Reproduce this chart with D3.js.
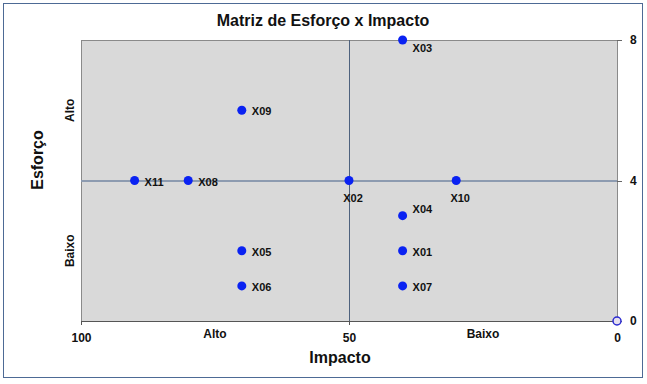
<!DOCTYPE html>
<html>
<head>
<meta charset="utf-8">
<script src="https://cdn.jsdelivr.net/npm/d3@7"></script>
<style>
  body { margin: 0; background: #fff; }
  text { font-family: "Liberation Sans", Arial, sans-serif; font-weight: bold; fill: #111; }
  line, rect, path { shape-rendering: crispEdges; }
</style>
</head>
<body>
<script>
// data
const names   = ["X01","X02","X03","X04","X05","X06","X07","X08","X09","X10","X11"];
const impacto = [40, 50, 40, 40, 70, 70, 40, 80, 70, 30, 90];
const esforco = [2, 4, 8, 3, 2, 1, 1, 4, 6, 4, 4];
// where each label sits around its point
const labelPos = ["right","below","belowRight","aboveRight","right","right","right","right","right","below","right"];

const xTicks = [100, 50, 0];
const yTicks = [0, 4, 8];
const xBands = [{v: 75, t: "Alto"}, {v: 25, t: "Baixo"}];
const yBands = [{v: 6, t: "Alto"}, {v: 2, t: "Baixo"}];

const W = 647, H = 384;
const margin = {top: 40, right: 30, bottom: 63, left: 81};
const width = 617 - margin.left, height = 321 - margin.top;

const svg = d3.select("body").append("svg")
  .attr("width", W).attr("height", H);

// outer frame
svg.append("rect")
  .attr("x", 3.5).attr("y", 3.5).attr("width", 639).attr("height", 374)
  .attr("fill", "none").attr("stroke", "#4d6a95").attr("stroke-width", 1.5);

svg.append("text")
  .attr("x", 323).attr("y", 26)
  .attr("text-anchor", "middle").style("font-size", "16px")
  .text("Matriz de Esforço x Impacto");

const g = svg.append("g").attr("transform", `translate(${margin.left},${margin.top})`);

const x = d3.scaleLinear().domain([100, 0]).range([0, width]);
const y = d3.scaleLinear().domain([0, 8]).range([height, 0]);

g.append("rect")
  .attr("width", width).attr("height", height)
  .attr("fill", "#d9d9d9")
  .attr("stroke", "#8a8a8a").attr("stroke-width", 1);

// quadrant lines
g.append("line")
  .attr("x1", 0).attr("x2", width).attr("y1", y(4)).attr("y2", y(4))
  .attr("stroke", "#8d9bb0").attr("stroke-width", 2);
g.append("line")
  .attr("x1", x(50) + 0.5).attr("x2", x(50) + 0.5).attr("y1", 0).attr("y2", height)
  .attr("stroke", "#4e627e").attr("stroke-width", 1);

// x axis
const axX = g.append("g").attr("transform", `translate(0,${height})`)
  .call(d3.axisBottom(x).tickValues(xTicks).tickSize(4).tickPadding(8));
axX.select(".domain").attr("stroke", "#555").attr("stroke-width", 1.5);
axX.selectAll(".tick line").attr("stroke", "#555");
axX.selectAll("text").style("font-size", "12px").attr("fill", "#111");

g.selectAll(".xband").data(xBands).enter().append("text")
  .attr("x", d => x(d.v)).attr("y", height + 17)
  .attr("text-anchor", "middle").style("font-size", "12px")
  .text(d => d.t);

// y axis on the right
const axY = g.append("g").attr("transform", `translate(${width},0)`)
  .call(d3.axisRight(y).tickValues(yTicks).tickSize(5).tickPadding(8));
axY.select(".domain").attr("stroke", "#8a8a8a");
axY.selectAll(".tick line").attr("stroke", "#666");
axY.selectAll("text").style("font-size", "12px").attr("fill", "#111");

g.selectAll(".yband").data(yBands).enter().append("text")
  .attr("transform", d => `translate(-7,${y(d.v)}) rotate(-90)`)
  .attr("text-anchor", "middle").style("font-size", "12px")
  .text(d => d.t);

svg.append("text")
  .attr("transform", "translate(43,160) rotate(-90)")
  .attr("text-anchor", "middle").style("font-size", "16px")
  .text("Esforço");

svg.append("text")
  .attr("x", 340).attr("y", 363)
  .attr("text-anchor", "middle").style("font-size", "16px")
  .text("Impacto");

// hollow point at origin
g.append("circle")
  .attr("cx", x(0)).attr("cy", y(0)).attr("r", 4)
  .attr("fill", "#e6e0ee").attr("stroke", "#2a2ad0").attr("stroke-width", 1.5);

const pts = names.map((n, i) => ({name: n, x: impacto[i], y: esforco[i], pos: labelPos[i]}));

g.selectAll(".pt").data(pts).enter().append("circle")
  .attr("cx", d => x(d.x)).attr("cy", d => y(d.y)).attr("r", 4.5)
  .attr("fill", "#0a22f2");

g.selectAll(".lbl").data(pts).enter().append("text")
  .attr("x", d => {
    if (d.pos === "below") return x(d.x) + 4;
    return x(d.x) + 10;
  })
  .attr("y", d => {
    if (d.pos === "below") return y(d.y) + 21;
    if (d.pos === "belowRight") return y(d.y) + 12;
    if (d.pos === "aboveRight") return y(d.y) - 3;
    return y(d.y) + 5;
  })
  .attr("text-anchor", d => d.pos === "below" ? "middle" : "start")
  .style("font-size", "11px")
  .text(d => d.name);
</script>
</body>
</html>
